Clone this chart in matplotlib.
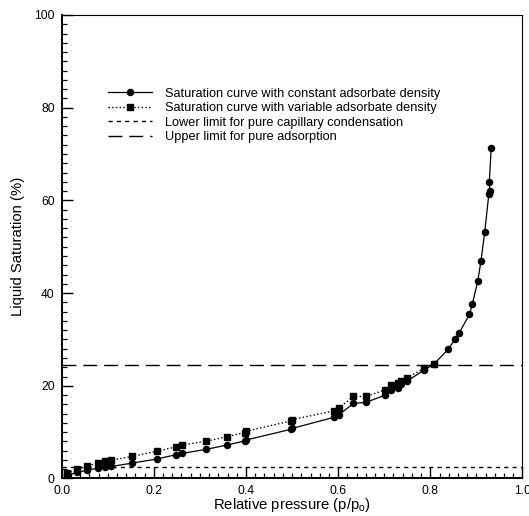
import numpy as np
import matplotlib
matplotlib.use("Agg")
import matplotlib.pyplot as plt
from matplotlib.ticker import MultipleLocator

plt.rcParams['font.family'] = ['Liberation Sans', 'DejaVu Sans']
plt.rcParams['mathtext.default'] = 'regular'

# relative pressure p/po
pressure = [0.012, 0.034, 0.055, 0.078, 0.095, 0.108, 0.152, 0.206, 0.247, 0.261,
            0.314, 0.358, 0.397, 0.400, 0.497, 0.500, 0.591, 0.602, 0.633, 0.660,
            0.702, 0.714, 0.730, 0.736, 0.749, 0.787, 0.808, 0.839, 0.854, 0.862,
            0.885, 0.891, 0.903, 0.910, 0.918, 0.927, 0.929, 0.928, 0.932]
# saturation with constant adsorbate density (%)
sat_const = [0.7, 1.3, 1.8, 2.2, 2.5, 2.6, 3.3, 4.2, 5.1, 5.4,
             6.3, 7.2, 8.1, 8.3, 10.6, 10.8, 13.2, 13.75, 16.2, 16.4,
             18.0, 19.1, 19.6, 20.3, 21.0, 23.4, 24.7, 27.9, 30.1, 31.3,
             35.4, 37.6, 42.6, 47.0, 53.1, 61.4, 62.0, 63.9, 71.2]
# saturation with variable adsorbate density (%) - only visible up to where the curves merge
sat_var = [1.1, 2.05, 2.7, 3.3, 3.7, 3.95, 4.75, 5.85, 6.8, 7.2,
           8.05, 9.0, 9.9, 10.2, 12.4, 12.7, 14.6, 15.2, 17.7, 17.7,
           19.1, 20.1, 20.6, 21.1, 21.7, 23.8, 24.8]

lower_limit = 2.5
upper_limit = 24.5

labels = ['Saturation curve with constant adsorbate density',
          'Saturation curve with variable adsorbate density',
          'Lower limit for pure capillary condensation',
          'Upper limit for pure adsorption']

fig = plt.figure(figsize=(5.29, 5.16), dpi=100)
ax = fig.add_axes([0.1166, 0.0727, 0.8711, 0.8983])

ax.plot(pressure, sat_const, '-', color='black', lw=0.9, marker='o', ms=4.4, label=labels[0], zorder=4)
ax.plot(pressure[:len(sat_var)], sat_var, ':', color='black', lw=1.0, marker='s', ms=3.9,
        label=labels[1], zorder=3)
ax.axhline(lower_limit, color='black', lw=1.0, ls=(0, (3, 3)), label=labels[2])
ax.axhline(upper_limit, color='black', lw=1.0, ls=(0, (10, 5)), label=labels[3])

ax.set_xlim(0, 1.0)
ax.set_ylim(0, 100)
ax.xaxis.set_major_locator(MultipleLocator(0.2))
ax.xaxis.set_minor_locator(MultipleLocator(0.02))
ax.yaxis.set_major_locator(MultipleLocator(20))
ax.yaxis.set_minor_locator(MultipleLocator(2))
ax.xaxis.set_major_formatter(plt.FormatStrFormatter('%.1f'))

ax.tick_params(which='both', direction='in', top=False, right=False, labelsize=8.7, pad=5)
ax.tick_params(which='major', length=8, width=1.0)
ax.tick_params(which='minor', length=3.6, width=0.9)

for s in ['left', 'bottom']:
    ax.spines[s].set_linewidth(1.4)
for s in ['top', 'right']:
    ax.spines[s].set_linewidth(0.8)

ax.set_xlabel('Relative pressure (p/p$_{o}$)', fontsize=10.7)
ax.set_ylabel('Liquid Saturation (%)', fontsize=10.7)
ax.xaxis.set_label_coords(0.5, -0.038)
ax.yaxis.set_label_coords(-0.08, 0.5)

ax.legend(loc='upper left', bbox_to_anchor=(0.1, 0.843), frameon=False, fontsize=9.2,
          handlelength=3.45, handletextpad=1.0, labelspacing=0.2, borderpad=0,
          borderaxespad=0, numpoints=1)

fig.savefig('out.png', dpi=100)
